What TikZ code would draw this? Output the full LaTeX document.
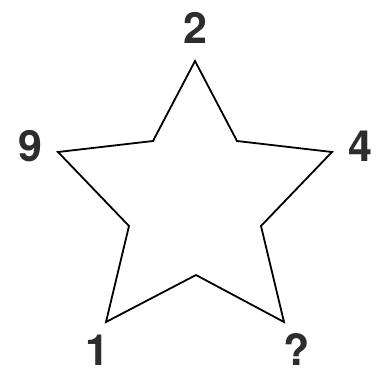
\documentclass[tikz,border=0pt]{standalone}
\usepackage{fontspec}
\setmainfont{TeX Gyre Heros}
\usepackage{tikz}
\definecolor{digitgray}{RGB}{45,45,45}
\tikzset{
  starline/.style={draw=black, line width=1.8pt, line join=miter},
  numlabel/.style={
    text=digitgray, inner sep=0pt,
    font=\fontsize{43}{43}\selectfont\bfseries
  },
}

\begin{document}
\begin{tikzpicture}[x=1pt, y=-1pt]
  \useasboundingbox (0,0) rectangle (378,373);

  % star outline
  \coordinate (ptop)    at (195,61);
  \coordinate (pright)  at (332,152);
  \coordinate (pbright) at (284,322);
  \coordinate (pbleft)  at (106,322);
  \coordinate (pleft)   at (58,152);
  \draw [starline] (ptop) -- (237,141) -- (pright) -- (261,226) -- (pbright)
    -- (196,275) -- (pbleft) -- (129,226) -- (pleft) -- (153,141) -- cycle;

  % numbers at the points
  \node (ntop)    [numlabel] at (195,28)  {2};
  \node (nright)  [numlabel] at (360,146) {4};
  \node (nbright) [numlabel] at (297,349) {?};
  \node (nbleft)  [numlabel] at (97,350)  {1};
  \node (nleft)   [numlabel] at (30,146)  {9};
\end{tikzpicture}
\end{document}
